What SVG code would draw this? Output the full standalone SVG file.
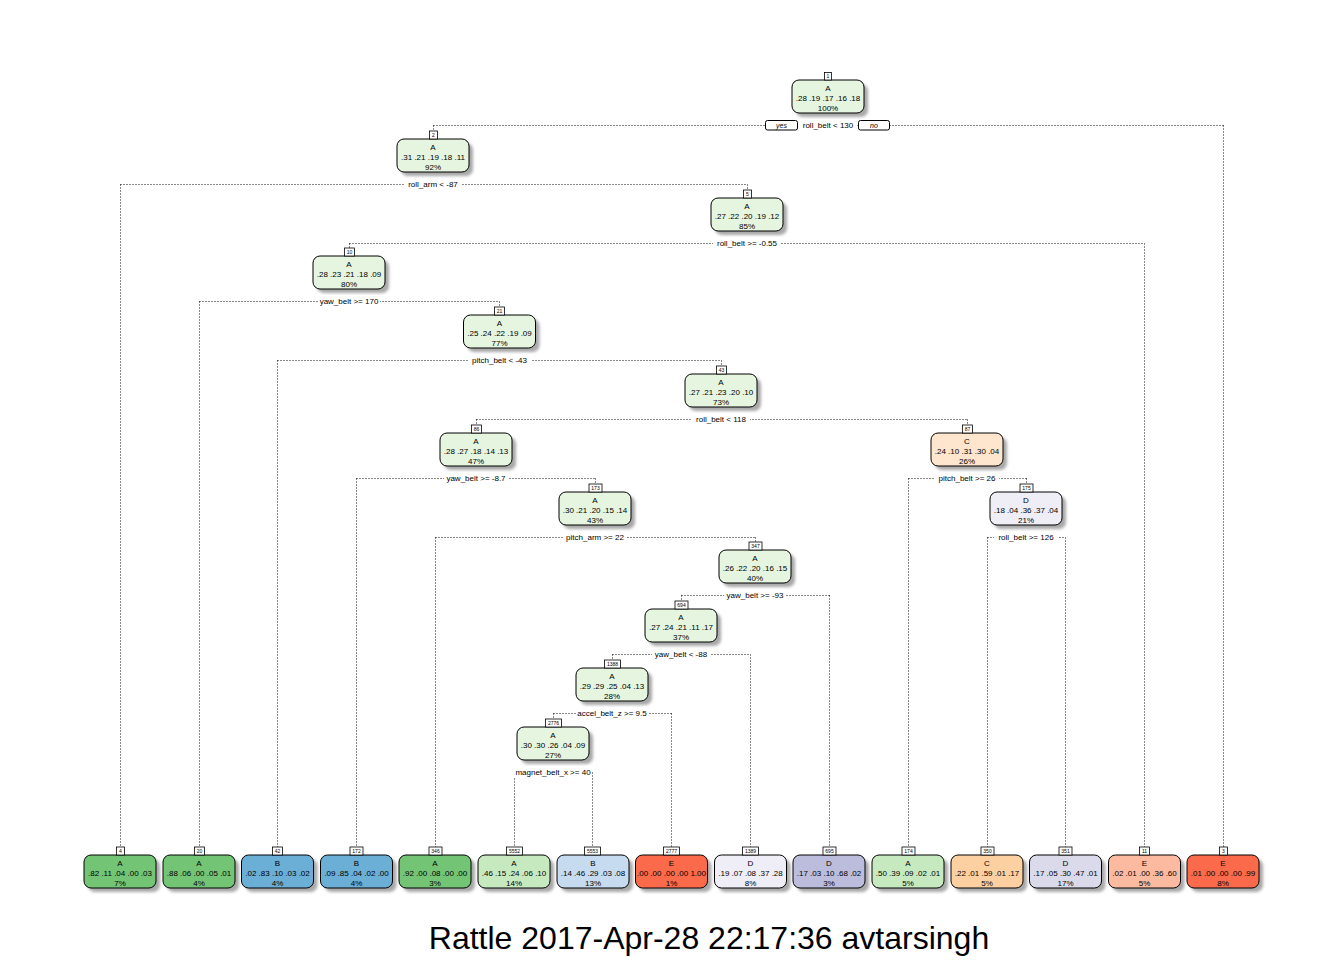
<svg xmlns="http://www.w3.org/2000/svg" width="1344" height="960" viewBox="0 0 1344 960">
<defs>
<filter id="soft" x="-20%" y="-30%" width="140%" height="160%"><feGaussianBlur stdDeviation="1.6"/></filter>
<style>
text{font-family:"Liberation Sans",Arial,sans-serif;fill:#000}
.t{font-size:8px;text-anchor:middle}
.n{font-size:5px;text-anchor:middle}
.lab{font-size:8px;text-anchor:middle}
.yn{font-size:7px;text-anchor:middle;font-style:italic}
.box{stroke:#000;stroke-width:1}
.num{fill:#fff;stroke:#000;stroke-width:0.8}
.sh{fill:#a8a8a8;filter:url(#soft)}
.bg{fill:#fff}
.conn path{fill:none;stroke:#111;stroke-width:1;stroke-dasharray:1 2}
.a0{fill:#e5f5e0}.a1{fill:#c7e9c0}.a2{fill:#74c476}
.b1{fill:#c6dbef}.b2{fill:#6baed6}
.c0{fill:#fee6ce}.c1{fill:#fdd0a2}
.d0{fill:#efedf5}.d1{fill:#dadaeb}.d2{fill:#bcbddc}
.e1{fill:#fcbba1}.e2{fill:#fb6a4a}
</style>
</defs>
<rect width="1344" height="960" fill="#fff"/>

<!-- branches -->
<g class="conn" id="connectors">
<path d="M433.5 125.5H1223.5M433.5 125.5V131M1223.5 125.5V847"/>
<path d="M120.5 184.5H747.5M120.5 184.5V847M747.5 184.5V190"/>
<path d="M349.5 243.5H1144.5M349.5 243.5V248M1144.5 243.5V847"/>
<path d="M199.5 301.5H499.5M199.5 301.5V847M499.5 301.5V307"/>
<path d="M277.5 360.5H721.5M277.5 360.5V847M721.5 360.5V366"/>
<path d="M476.5 419.5H967.5M476.5 419.5V425M967.5 419.5V425"/>
<path d="M356.5 478.5H595.5M356.5 478.5V847M595.5 478.5V484"/>
<path d="M908.5 478.5H1026.5M908.5 478.5V847M1026.5 478.5V484"/>
<path d="M435.5 537.5H755.5M435.5 537.5V847M755.5 537.5V542"/>
<path d="M987.5 537.5H1065.5M987.5 537.5V847M1065.5 537.5V847"/>
<path d="M681.5 595.5H829.5M681.5 595.5V601M829.5 595.5V847"/>
<path d="M612.5 654.5H750.5M612.5 654.5V660M750.5 654.5V847"/>
<path d="M553.5 713.5H671.5M553.5 713.5V719M671.5 713.5V847"/>
<path d="M514.5 772.5H592.5M514.5 772.5V847M592.5 772.5V847"/>
</g>

<!-- internal nodes -->
<g id="node-1">
<rect class="sh" x="796" y="84" width="72" height="33" rx="7"/>
<rect class="box a0" x="792" y="80" width="72" height="33" rx="7"/>
<text class="t" x="828" y="91">A</text>
<text class="t" x="828" y="101">.28 .19 .17 .16 .18</text>
<text class="t" x="828" y="111">100%</text>
<rect class="num" x="824.5" y="72.5" width="7" height="7.5"/>
<text class="n" x="828" y="78">1</text>
<rect class="bg" x="799" y="119" width="58" height="12"/>
<text class="lab" x="828" y="128">roll_belt &lt; 130</text>
<rect class="box" x="765.5" y="120.5" width="32" height="9.5" rx="2" fill="#fff"/>
<text class="yn" x="781.5" y="128">yes</text>
<rect class="box" x="858.5" y="120.5" width="31" height="9.5" rx="2" fill="#fff"/>
<text class="yn" x="874" y="128">no</text>
</g>

<g id="node-2">
<rect class="sh" x="401" y="143" width="72" height="33" rx="7"/>
<rect class="box a0" x="397" y="139" width="72" height="33" rx="7"/>
<text class="t" x="433" y="150">A</text>
<text class="t" x="433" y="160">.31 .21 .19 .18 .11</text>
<text class="t" x="433" y="170">92%</text>
<rect class="num" x="429.5" y="131" width="8" height="8"/>
<text class="n" x="433.5" y="137">2</text>
<rect class="bg" x="405" y="178" width="56" height="12"/>
<text class="lab" x="433" y="187">roll_arm &lt; -87</text>
</g>

<g id="node-5">
<rect class="sh" x="715" y="202" width="72" height="33" rx="7"/>
<rect class="box a0" x="711" y="198" width="72" height="33" rx="7"/>
<text class="t" x="747" y="209">A</text>
<text class="t" x="747" y="219">.27 .22 .20 .19 .12</text>
<text class="t" x="747" y="229">85%</text>
<rect class="num" x="743.5" y="190" width="8" height="8"/>
<text class="n" x="747.5" y="196">5</text>
<rect class="bg" x="713" y="237" width="68" height="12"/>
<text class="lab" x="747" y="246">roll_belt &gt;= -0.55</text>
</g>

<g id="node-10">
<rect class="sh" x="317" y="260" width="72" height="33" rx="7"/>
<rect class="box a0" x="313" y="256" width="72" height="33" rx="7"/>
<text class="t" x="349" y="267">A</text>
<text class="t" x="349" y="277">.28 .23 .21 .18 .09</text>
<text class="t" x="349" y="287">80%</text>
<rect class="num" x="344.5" y="248" width="10" height="8"/>
<text class="n" x="349.5" y="254">10</text>
<rect class="bg" x="318" y="295" width="62" height="12"/>
<text class="lab" x="349" y="304">yaw_belt &gt;= 170</text>
</g>

<g id="node-21">
<rect class="sh" x="467.5" y="319" width="72" height="33" rx="7"/>
<rect class="box a0" x="463.5" y="315" width="72" height="33" rx="7"/>
<text class="t" x="499.5" y="326">A</text>
<text class="t" x="499.5" y="336">.25 .24 .22 .19 .09</text>
<text class="t" x="499.5" y="346">77%</text>
<rect class="num" x="494.5" y="307" width="10" height="8"/>
<text class="n" x="499.5" y="313">21</text>
<rect class="bg" x="468" y="354" width="63" height="12"/>
<text class="lab" x="499.5" y="363">pitch_belt &lt; -43</text>
</g>

<g id="node-43">
<rect class="sh" x="689" y="378" width="72" height="33" rx="7"/>
<rect class="box a0" x="685" y="374" width="72" height="33" rx="7"/>
<text class="t" x="721" y="385">A</text>
<text class="t" x="721" y="395">.27 .21 .23 .20 .10</text>
<text class="t" x="721" y="405">73%</text>
<rect class="num" x="716.5" y="366" width="10" height="8"/>
<text class="n" x="721.5" y="372">43</text>
<rect class="bg" x="692" y="413" width="58" height="12"/>
<text class="lab" x="721" y="422">roll_belt &lt; 118</text>
</g>

<g id="node-86">
<rect class="sh" x="444" y="437" width="72" height="33" rx="7"/>
<rect class="box a0" x="440" y="433" width="72" height="33" rx="7"/>
<text class="t" x="476" y="444">A</text>
<text class="t" x="476" y="454">.28 .27 .18 .14 .13</text>
<text class="t" x="476" y="464">47%</text>
<rect class="num" x="471.5" y="425" width="10" height="8"/>
<text class="n" x="476.5" y="431">86</text>
<rect class="bg" x="444" y="472" width="64" height="12"/>
<text class="lab" x="476" y="481">yaw_belt &gt;= -8.7</text>
</g>

<g id="node-87">
<rect class="sh" x="935" y="437" width="72" height="33" rx="7"/>
<rect class="box c0" x="931" y="433" width="72" height="33" rx="7"/>
<text class="t" x="967" y="444">C</text>
<text class="t" x="967" y="454">.24 .10 .31 .30 .04</text>
<text class="t" x="967" y="464">26%</text>
<rect class="num" x="962.5" y="425" width="10" height="8"/>
<text class="n" x="967.5" y="431">87</text>
<rect class="bg" x="935" y="472" width="64" height="12"/>
<text class="lab" x="967" y="481">pitch_belt &gt;= 26</text>
</g>

<g id="node-173">
<rect class="sh" x="563" y="496" width="72" height="33" rx="7"/>
<rect class="box a0" x="559" y="492" width="72" height="33" rx="7"/>
<text class="t" x="595" y="503">A</text>
<text class="t" x="595" y="513">.30 .21 .20 .15 .14</text>
<text class="t" x="595" y="523">43%</text>
<rect class="num" x="589" y="484" width="13" height="8"/>
<text class="n" x="595.5" y="490">173</text>
<rect class="bg" x="563" y="531" width="64" height="12"/>
<text class="lab" x="595" y="540">pitch_arm &gt;= 22</text>
</g>

<g id="node-175">
<rect class="sh" x="994" y="496" width="72" height="33" rx="7"/>
<rect class="box d0" x="990" y="492" width="72" height="33" rx="7"/>
<text class="t" x="1026" y="503">D</text>
<text class="t" x="1026" y="513">.18 .04 .36 .37 .04</text>
<text class="t" x="1026" y="523">21%</text>
<rect class="num" x="1020" y="484" width="13" height="8"/>
<text class="n" x="1026.5" y="490">175</text>
<rect class="bg" x="994" y="531" width="64" height="12"/>
<text class="lab" x="1026" y="540">roll_belt &gt;= 126</text>
</g>

<g id="node-347">
<rect class="sh" x="723" y="554" width="72" height="33" rx="7"/>
<rect class="box a0" x="719" y="550" width="72" height="33" rx="7"/>
<text class="t" x="755" y="561">A</text>
<text class="t" x="755" y="571">.26 .22 .20 .16 .15</text>
<text class="t" x="755" y="581">40%</text>
<rect class="num" x="749" y="542" width="13" height="8"/>
<text class="n" x="755.5" y="548">347</text>
<rect class="bg" x="724" y="589" width="62" height="12"/>
<text class="lab" x="755" y="598">yaw_belt &gt;= -93</text>
</g>

<g id="node-694">
<rect class="sh" x="649" y="613" width="72" height="33" rx="7"/>
<rect class="box a0" x="645" y="609" width="72" height="33" rx="7"/>
<text class="t" x="681" y="620">A</text>
<text class="t" x="681" y="630">.27 .24 .21 .11 .17</text>
<text class="t" x="681" y="640">37%</text>
<rect class="num" x="675" y="601" width="13" height="8"/>
<text class="n" x="681.5" y="607">694</text>
<rect class="bg" x="652" y="648" width="58" height="12"/>
<text class="lab" x="681" y="657">yaw_belt &lt; -88</text>
</g>

<g id="node-1388">
<rect class="sh" x="580" y="672" width="72" height="33" rx="7"/>
<rect class="box a0" x="576" y="668" width="72" height="33" rx="7"/>
<text class="t" x="612" y="679">A</text>
<text class="t" x="612" y="689">.29 .29 .25 .04 .13</text>
<text class="t" x="612" y="699">28%</text>
<rect class="num" x="604.5" y="660" width="16" height="8"/>
<text class="n" x="612.5" y="666">1388</text>
<rect class="bg" x="576" y="707" width="72" height="12"/>
<text class="lab" x="612" y="716">accel_belt_z &gt;= 9.5</text>
</g>

<g id="node-2776">
<rect class="sh" x="521" y="731" width="72" height="33" rx="7"/>
<rect class="box a0" x="517" y="727" width="72" height="33" rx="7"/>
<text class="t" x="553" y="738">A</text>
<text class="t" x="553" y="748">.30 .30 .26 .04 .09</text>
<text class="t" x="553" y="758">27%</text>
<rect class="num" x="545.5" y="719" width="16" height="8"/>
<text class="n" x="553.5" y="725">2776</text>
<rect class="bg" x="514" y="766" width="78" height="12"/>
<text class="lab" x="553" y="775">magnet_belt_x &gt;= 40</text>
</g>

<!-- leaves -->
<g id="node-4">
<rect class="sh" x="88" y="859" width="72" height="33" rx="7"/>
<rect class="box a2" x="84" y="855" width="72" height="33" rx="7"/>
<text class="t" x="120" y="866">A</text>
<text class="t" x="120" y="876">.82 .11 .04 .00 .03</text>
<text class="t" x="120" y="886">7%</text>
<rect class="num" x="116.5" y="847" width="8" height="8"/>
<text class="n" x="120.5" y="853">4</text>
</g>
<g id="node-20">
<rect class="sh" x="167" y="859" width="72" height="33" rx="7"/>
<rect class="box a2" x="163" y="855" width="72" height="33" rx="7"/>
<text class="t" x="199" y="866">A</text>
<text class="t" x="199" y="876">.88 .06 .00 .05 .01</text>
<text class="t" x="199" y="886">4%</text>
<rect class="num" x="194.5" y="847" width="10" height="8"/>
<text class="n" x="199.5" y="853">20</text>
</g>
<g id="node-42">
<rect class="sh" x="245.5" y="859" width="72" height="33" rx="7"/>
<rect class="box b2" x="241.5" y="855" width="72" height="33" rx="7"/>
<text class="t" x="277.5" y="866">B</text>
<text class="t" x="277.5" y="876">.02 .83 .10 .03 .02</text>
<text class="t" x="277.5" y="886">4%</text>
<rect class="num" x="272.5" y="847" width="10" height="8"/>
<text class="n" x="277.5" y="853">42</text>
</g>
<g id="node-172">
<rect class="sh" x="324.5" y="859" width="72" height="33" rx="7"/>
<rect class="box b2" x="320.5" y="855" width="72" height="33" rx="7"/>
<text class="t" x="356.5" y="866">B</text>
<text class="t" x="356.5" y="876">.09 .85 .04 .02 .00</text>
<text class="t" x="356.5" y="886">4%</text>
<rect class="num" x="350" y="847" width="13" height="8"/>
<text class="n" x="356.5" y="853">172</text>
</g>
<g id="node-346">
<rect class="sh" x="403" y="859" width="72" height="33" rx="7"/>
<rect class="box a2" x="399" y="855" width="72" height="33" rx="7"/>
<text class="t" x="435" y="866">A</text>
<text class="t" x="435" y="876">.92 .00 .08 .00 .00</text>
<text class="t" x="435" y="886">3%</text>
<rect class="num" x="429" y="847" width="13" height="8"/>
<text class="n" x="435.5" y="853">346</text>
</g>
<g id="node-5552">
<rect class="sh" x="482" y="859" width="72" height="33" rx="7"/>
<rect class="box a1" x="478" y="855" width="72" height="33" rx="7"/>
<text class="t" x="514" y="866">A</text>
<text class="t" x="514" y="876">.46 .15 .24 .06 .10</text>
<text class="t" x="514" y="886">14%</text>
<rect class="num" x="506.5" y="847" width="16" height="8"/>
<text class="n" x="514.5" y="853">5552</text>
</g>
<g id="node-5553">
<rect class="sh" x="561" y="859" width="72" height="33" rx="7"/>
<rect class="box b1" x="557" y="855" width="72" height="33" rx="7"/>
<text class="t" x="593" y="866">B</text>
<text class="t" x="593" y="876">.14 .46 .29 .03 .08</text>
<text class="t" x="593" y="886">13%</text>
<rect class="num" x="584.5" y="847" width="16" height="8"/>
<text class="n" x="592.5" y="853">5553</text>
</g>
<g id="node-2777">
<rect class="sh" x="639.5" y="859" width="72" height="33" rx="7"/>
<rect class="box e2" x="635.5" y="855" width="72" height="33" rx="7"/>
<text class="t" x="671.5" y="866">E</text>
<text class="t" x="671.5" y="876">.00 .00 .00 .00 1.00</text>
<text class="t" x="671.5" y="886">1%</text>
<rect class="num" x="663.5" y="847" width="16" height="8"/>
<text class="n" x="671.5" y="853">2777</text>
</g>
<g id="node-1389">
<rect class="sh" x="718.5" y="859" width="72" height="33" rx="7"/>
<rect class="box d0" x="714.5" y="855" width="72" height="33" rx="7"/>
<text class="t" x="750.5" y="866">D</text>
<text class="t" x="750.5" y="876">.19 .07 .08 .37 .28</text>
<text class="t" x="750.5" y="886">8%</text>
<rect class="num" x="742.5" y="847" width="16" height="8"/>
<text class="n" x="750.5" y="853">1389</text>
</g>
<g id="node-695">
<rect class="sh" x="797" y="859" width="72" height="33" rx="7"/>
<rect class="box d2" x="793" y="855" width="72" height="33" rx="7"/>
<text class="t" x="829" y="866">D</text>
<text class="t" x="829" y="876">.17 .03 .10 .68 .02</text>
<text class="t" x="829" y="886">3%</text>
<rect class="num" x="823" y="847" width="13" height="8"/>
<text class="n" x="829.5" y="853">695</text>
</g>
<g id="node-174">
<rect class="sh" x="876" y="859" width="72" height="33" rx="7"/>
<rect class="box a1" x="872" y="855" width="72" height="33" rx="7"/>
<text class="t" x="908" y="866">A</text>
<text class="t" x="908" y="876">.50 .39 .09 .02 .01</text>
<text class="t" x="908" y="886">5%</text>
<rect class="num" x="902" y="847" width="13" height="8"/>
<text class="n" x="908.5" y="853">174</text>
</g>
<g id="node-350">
<rect class="sh" x="955" y="859" width="72" height="33" rx="7"/>
<rect class="box c1" x="951" y="855" width="72" height="33" rx="7"/>
<text class="t" x="987" y="866">C</text>
<text class="t" x="987" y="876">.22 .01 .59 .01 .17</text>
<text class="t" x="987" y="886">5%</text>
<rect class="num" x="981" y="847" width="13" height="8"/>
<text class="n" x="987.5" y="853">350</text>
</g>
<g id="node-351">
<rect class="sh" x="1033.5" y="859" width="72" height="33" rx="7"/>
<rect class="box d1" x="1029.5" y="855" width="72" height="33" rx="7"/>
<text class="t" x="1065.5" y="866">D</text>
<text class="t" x="1065.5" y="876">.17 .05 .30 .47 .01</text>
<text class="t" x="1065.5" y="886">17%</text>
<rect class="num" x="1059" y="847" width="13" height="8"/>
<text class="n" x="1065.5" y="853">351</text>
</g>
<g id="node-11">
<rect class="sh" x="1112.5" y="859" width="72" height="33" rx="7"/>
<rect class="box e1" x="1108.5" y="855" width="72" height="33" rx="7"/>
<text class="t" x="1144.5" y="866">E</text>
<text class="t" x="1144.5" y="876">.02 .01 .00 .36 .60</text>
<text class="t" x="1144.5" y="886">5%</text>
<rect class="num" x="1139.5" y="847" width="10" height="8"/>
<text class="n" x="1144.5" y="853">11</text>
</g>
<g id="node-3">
<rect class="sh" x="1191" y="859" width="72" height="33" rx="7"/>
<rect class="box e2" x="1187" y="855" width="72" height="33" rx="7"/>
<text class="t" x="1223" y="866">E</text>
<text class="t" x="1223" y="876">.01 .00 .00 .00 .99</text>
<text class="t" x="1223" y="886">8%</text>
<rect class="num" x="1219.5" y="847" width="8" height="8"/>
<text class="n" x="1223.5" y="853">3</text>
</g>

<text x="709" y="949" font-size="32" text-anchor="middle">Rattle 2017-Apr-28 22:17:36 avtarsingh</text>
</svg>
